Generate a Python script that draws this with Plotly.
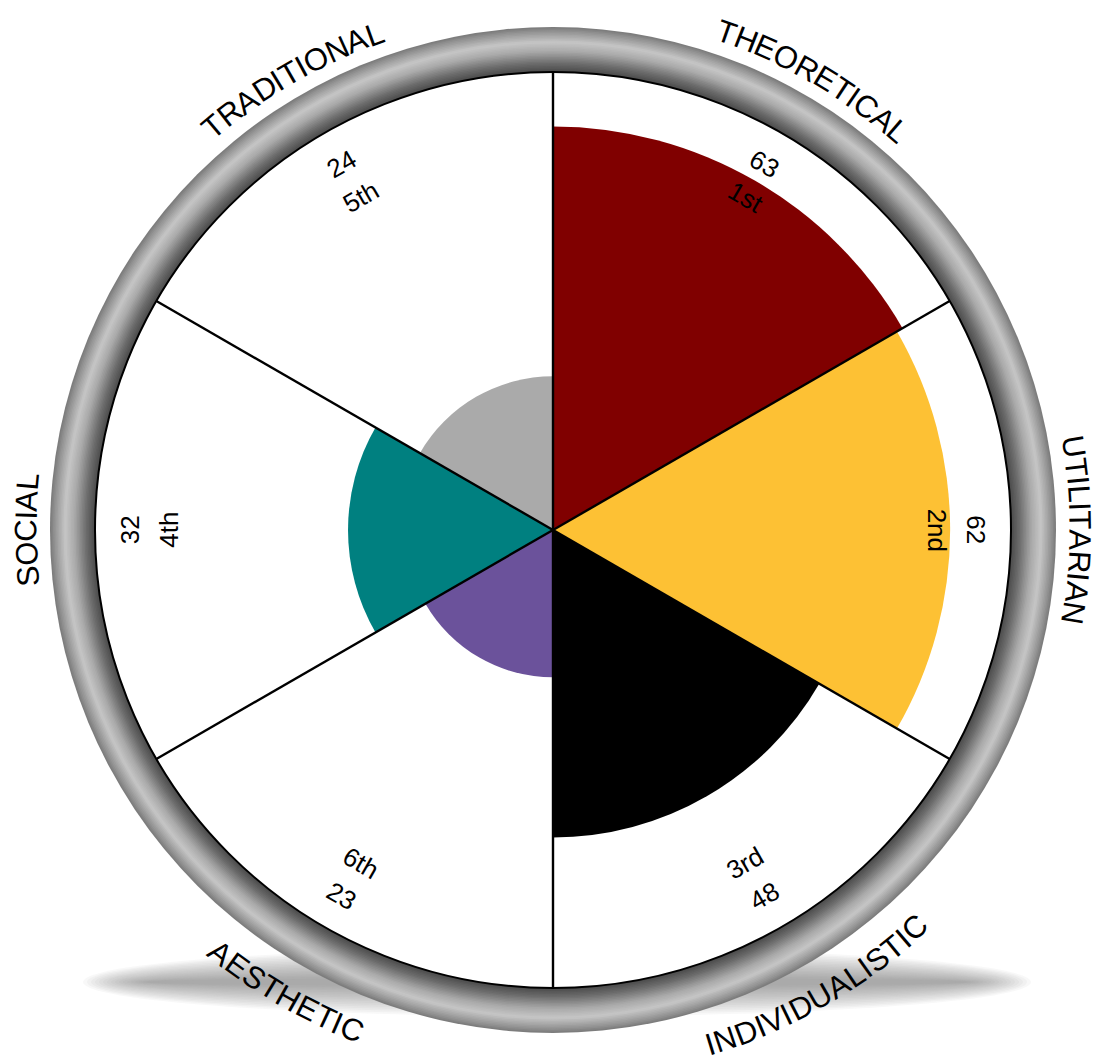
import math
import plotly.graph_objects as go

# ---------------- data ----------------
categories = ["THEORETICAL", "UTILITARIAN", "INDIVIDUALISTIC", "AESTHETIC", "SOCIAL", "TRADITIONAL"]
scores = [63, 62, 48, 23, 32, 24]
ranks = ["1st", "2nd", "3rd", "6th", "4th", "5th"]
sector_centers = [30, 90, 150, 210, 270, 330]
sector_width = 60
colors = ["#800000", "#fdc134", "#000000", "#6b529b", "#008080", "#aaaaaa"]

# ---------------- geometry ----------------
W, H = 1097, 1063
CX, CY = 553, 530          # centre of the polar area in px
R = 458                    # polar radius in px
R_MAX = 71.5               # radial axis range max
VALUE_R = 66.0             # radial position (data units) of score labels
RANK_R = 60.0              # radial position (data units) of rank labels
LABEL_FONT = "Liberation Sans, Arial, Helvetica, sans-serif"

dom_x = [(CX - R) / W, (CX + R) / W]
dom_y = [1 - (CY + R) / H, 1 - (CY - R) / H]


def to_paper(r_px, theta):
    a = math.radians(theta)
    x = CX + r_px * math.sin(a)
    y = CY - r_px * math.cos(a)
    return x / W, 1 - y / H


def is_bottom(theta):
    theta = theta % 360
    return 90 < theta < 270


def norm180(a):
    a = a % 360
    return a - 360 if a > 180 else a


def text_angle(theta, bottom):
    return norm180(theta - 180) if bottom else norm180(theta)


fig = go.Figure()

fig.add_trace(go.Barpolar(
    r=scores, theta=sector_centers, width=[sector_width] * len(scores),
    marker=dict(color=colors, line=dict(width=0)),
    hoverinfo="skip",
))

# sector boundary lines drawn above bars
line_r, line_t = [], []
for c in sector_centers:
    b = c - sector_width / 2
    line_r += [0, R_MAX, None]
    line_t += [b, b, None]
fig.add_trace(go.Scatterpolar(
    r=line_r, theta=line_t, mode="lines",
    line=dict(color="black", width=2.4), hoverinfo="skip",
))

shapes = []
# soft shadow under the ring
SH_CX, SH_CY = 557, 982
for i in range(16, -1, -1):
    hw = 410 + i * 4
    hh = 4 + i * 1.9
    shapes.append(dict(
        type="circle", xref="paper", yref="paper", layer="below",
        x0=(SH_CX - hw) / W, x1=(SH_CX + hw) / W,
        y0=1 - (SH_CY + hh) / H, y1=1 - (SH_CY - hh) / H,
        fillcolor="#74747f", opacity=0.05, line=dict(width=0),
    ))

# metallic ring (concentric circles)
stops = [(0.0, 125), (0.1, 150), (0.32, 198), (0.52, 170), (0.78, 110), (1.0, 70)]


def grey_at(t):
    for (t0, g0), (t1, g1) in zip(stops[:-1], stops[1:]):
        if t0 <= t <= t1:
            g = g0 + (g1 - g0) * (t - t0) / (t1 - t0)
            return int(round(g))
    return stops[-1][1]


R_OUT, R_IN = 503, R
n = 30
for k in range(n + 1):
    rr = R_OUT - (R_OUT - R_IN) * k / n
    g = grey_at(k / n)
    shapes.append(dict(
        type="circle", xref="paper", yref="paper", layer="below",
        x0=(CX - rr) / W, x1=(CX + rr) / W,
        y0=1 - (CY + rr) / H, y1=1 - (CY - rr) / H,
        fillcolor=f"rgb({g},{g},{g})", line=dict(width=0),
    ))
shapes.append(dict(
    type="circle", xref="paper", yref="paper", layer="below",
    x0=(CX - R) / W, x1=(CX + R) / W,
    y0=1 - (CY + R) / H, y1=1 - (CY - R) / H,
    fillcolor="white", line=dict(width=0),
))

annotations = []
# score and rank labels
for val, rk, th in zip(scores, ranks, sector_centers):
    for txt, rdat in ((str(val), VALUE_R), (rk, RANK_R)):
        x, y = to_paper(rdat / R_MAX * R, th)
        ang = text_angle(th, is_bottom(th))
        annotations.append(dict(
            x=x, y=y, xref="paper", yref="paper", text=txt, showarrow=False,
            textangle=ang, xanchor="center", yanchor="middle",
            font=dict(family=LABEL_FONT, size=26, color="black"),
        ))

# curved category labels
CW = {"A": 667, "B": 667, "C": 722, "D": 722, "E": 667, "F": 611, "G": 778, "H": 722,
      "I": 278, "J": 500, "K": 667, "L": 556, "M": 833, "N": 722, "O": 778, "P": 667,
      "Q": 778, "R": 722, "S": 667, "T": 611, "U": 722, "V": 667, "W": 944, "X": 667,
      "Y": 667, "Z": 611}
CAT_SIZE = 31


def curved_label(text, theta_c):
    bottom = is_bottom(theta_c)
    r_px = 538 if bottom else 527
    total = sum(CW[c] for c in text) * CAT_SIZE / 1000
    span = math.degrees(total / r_px)
    start = theta_c + span / 2 if bottom else theta_c - span / 2
    d = -1 if bottom else 1
    pos = 0
    for ch in text:
        cw = CW[ch] * CAT_SIZE / 1000
        ang = start + d * math.degrees((pos + cw / 2) / r_px)
        pos += cw
        x, y = to_paper(r_px, ang)
        annotations.append(dict(
            x=x, y=y, xref="paper", yref="paper", text=ch, showarrow=False,
            textangle=text_angle(ang, bottom), xanchor="center", yanchor="middle",
            font=dict(family=LABEL_FONT, size=CAT_SIZE, color="black"),
        ))


for cat, th in zip(categories, sector_centers):
    curved_label(cat, th)

fig.update_layout(
    width=W, height=H, margin=dict(l=0, r=0, t=0, b=0),
    paper_bgcolor="white", showlegend=False,
    polar=dict(
        domain=dict(x=dom_x, y=dom_y),
        bgcolor="white", bargap=0,
        radialaxis=dict(range=[0, R_MAX], visible=False),
        angularaxis=dict(
            rotation=90, direction="clockwise", thetaunit="degrees",
            showgrid=False, showticklabels=False, ticks="",
            showline=True, linecolor="black", linewidth=2,
        ),
    ),
    shapes=shapes,
    annotations=annotations,
)

fig.write_html("out.html")
